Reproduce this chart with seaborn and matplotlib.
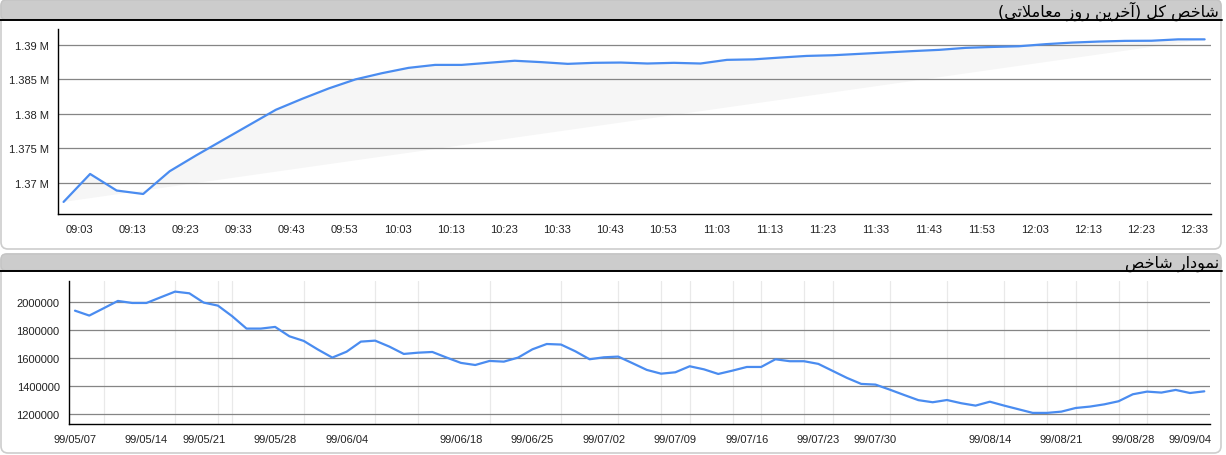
import matplotlib
matplotlib.use("Agg")
import matplotlib.pyplot as plt
import seaborn as sns
import pandas as pd
from matplotlib.patches import FancyBboxPatch
from matplotlib.ticker import FixedLocator, FuncFormatter

# top chart: total index on the last trading day (every 5 minutes)
intraday_times = [
    "09:00", "09:05", "09:10", "09:15", "09:20", "09:25", "09:30", "09:35", "09:40", "09:45",
    "09:50", "09:55", "10:00", "10:05", "10:10", "10:15", "10:20", "10:25", "10:30", "10:35",
    "10:40", "10:45", "10:50", "10:55", "11:00", "11:05", "11:10", "11:15", "11:20", "11:25",
    "11:30", "11:35", "11:40", "11:45", "11:50", "11:55", "12:00", "12:05", "12:10", "12:15",
    "12:20", "12:25", "12:30", "12:35",
]
intraday_values = [
    1367250, 1371300, 1368900, 1368400, 1371700, 1374000, 1376200, 1378400, 1380600, 1382200,
    1383700, 1385000, 1385900, 1386670, 1387100, 1387100, 1387400, 1387700, 1387500, 1387250,
    1387400, 1387440, 1387300, 1387400, 1387300, 1387830, 1387900, 1388160, 1388400, 1388500,
    1388700, 1388900, 1389100, 1389280, 1389570, 1389700, 1389800, 1390100, 1390330, 1390480,
    1390580, 1390600, 1390800, 1390800,
]
time_labels = ["09:03", "09:13", "09:23", "09:33", "09:43", "09:53", "10:03", "10:13",
               "10:23", "10:33", "10:43", "10:53", "11:03", "11:13", "11:23", "11:33",
               "11:43", "11:53", "12:03", "12:13", "12:23", "12:33"]
top_yticks = [1370000, 1375000, 1380000, 1385000, 1390000]

# bottom chart: daily index, one point per trading day
daily_values = [
    1940000, 1905000, 1957000, 2009500, 1995000, 1995000, 2035700, 2076000, 2064000, 1997600,
    1976000, 1900000, 1812000, 1812000, 1824000, 1757000, 1724000, 1662000, 1605000, 1647000,
    1719000, 1726000, 1683000, 1631000, 1640000, 1645000, 1605000, 1567000, 1552000, 1581000,
    1576000, 1605000, 1664000, 1702000, 1698000, 1650000, 1593000, 1607000, 1612000, 1565000,
    1517000, 1490000, 1500000, 1543000, 1521000, 1488000, 1512000, 1538000, 1538000, 1593000,
    1579000, 1579000, 1560000, 1510000, 1460000, 1417000, 1412000, 1376000, 1338000, 1301000,
    1286000, 1302000, 1279000, 1262000, 1290000, 1262000, 1236000, 1210000, 1210000, 1219000,
    1245000, 1255000, 1271000, 1293000, 1343000, 1362000, 1355000, 1374000, 1352000, 1364000,
]
date_tick_days = [0, 5, 9, 14, 19, 22, 27, 32, 37, 42, 47, 52, 56, 59, 64, 69, 74, 78]
date_tick_labels = ["99/05/07", "99/05/14", "99/05/21", "99/05/28", "99/06/04", "",
                    "99/06/18", "99/06/25", "99/07/02", "99/07/09", "99/07/16", "99/07/23",
                    "99/07/30", "", "99/08/14", "99/08/21", "99/08/28", "99/09/04"]
date_grid_days = [0, 2, 5, 7, 10, 11, 14, 16, 19, 21, 24, 27, 29, 32, 34, 37, 38, 41, 43,
                  46, 48, 51, 53, 56, 57, 59, 61, 64, 65, 68, 70, 73, 75, 78]
bottom_yticks = [1200000, 1400000, 1600000, 1800000, 2000000]

title_top = "شاخص کل (آخرین روز معاملاتی)"
title_bottom = "نمودار شاخص"

# matplotlib does no arabic shaping, so pick presentation forms by hand
FORMS = {
    'ا': '\uFE8D\uFE8E', 'آ': '\uFE81\uFE82', 'د': '\uFEA9\uFEAA', 'ر': '\uFEAD\uFEAE',
    'ز': '\uFEAF\uFEB0', 'و': '\uFEED\uFEEE', 'لا': '\uFEFB\uFEFC',
    'ت': '\uFE95\uFE96\uFE97\uFE98', 'خ': '\uFEA5\uFEA6\uFEA7\uFEA8',
    'ش': '\uFEB5\uFEB6\uFEB7\uFEB8', 'ص': '\uFEB9\uFEBA\uFEBB\uFEBC',
    'ع': '\uFEC9\uFECA\uFECB\uFECC', 'ل': '\uFEDD\uFEDE\uFEDF\uFEE0',
    'م': '\uFEE1\uFEE2\uFEE3\uFEE4', 'ن': '\uFEE5\uFEE6\uFEE7\uFEE8',
    'ک': '\uFB8E\uFB8F\uFB90\uFB91', 'ی': '\uFBFC\uFBFD\uFBFE\uFBFF',
}


def shape_rtl(text):
    tokens, i = [], 0
    while i < len(text):
        if text[i] == 'ل' and text[i + 1:i + 2] == 'ا':
            tokens.append('لا')
            i += 2
        else:
            tokens.append(text[i])
            i += 1
    out = []
    for k, t in enumerate(tokens):
        if t not in FORMS:
            out.append(t)
            continue
        f = FORMS[t]
        prev_j = k > 0 and tokens[k - 1] in FORMS and len(FORMS[tokens[k - 1]]) == 4
        next_j = len(f) == 4 and k + 1 < len(tokens) and tokens[k + 1] in FORMS
        if prev_j and next_j:
            out.append(f[3])
        elif prev_j:
            out.append(f[1])
        elif next_j:
            out.append(f[2])
        else:
            out.append(f[0])
    mirror = {'(': ')', ')': '('}
    return ''.join(mirror.get(c, c) for c in reversed(out))


sns.set_theme(style="white")
plt.rcParams['font.family'] = ['Liberation Sans', 'DejaVu Sans']

W, H = 1226, 456
fig = plt.figure(figsize=(W / 100, H / 100), dpi=100)
fig.patch.set_facecolor("white")

LINE = "#4a8cf0"
GRID = "#858585"


def panel(top, bottom, head_bottom):
    # white rounded box + grey header strip (pixel coords, y from top)
    box = FancyBboxPatch((1, H - bottom), 1220, bottom - top,
                         boxstyle="round,pad=0,rounding_size=7", transform=None,
                         facecolor="white", edgecolor="#cdcdcd", lw=1.2, zorder=-5)
    fig.add_artist(box)
    head = FancyBboxPatch((1, H - head_bottom), 1220, head_bottom - top,
                          boxstyle="round,pad=0,rounding_size=5", transform=None,
                          facecolor="#cccccc", edgecolor="#c4c4c4", lw=1, zorder=-4)
    fig.add_artist(head)
    fig.add_artist(plt.Line2D([0, 1222], [H - head_bottom, H - head_bottom], transform=None,
                              color="black", lw=1.4, zorder=-3))


panel(1, 250, 20.5)
panel(255, 454, 271.5)

fig.text(1219 / W, 1 - 11.5 / H, shape_rtl(title_top), ha="right", va="center",
         fontsize=11.5, family=["DejaVu Sans"], color="black")
fig.text(1219 / W, 1 - 263.5 / H, shape_rtl(title_bottom), ha="right", va="center",
         fontsize=11.5, family=["DejaVu Sans"], color="black")


def style_axes(ax):
    ax.set_facecolor("none")
    for s in ["top", "right"]:
        ax.spines[s].set_visible(False)
    for s in ["left", "bottom"]:
        ax.spines[s].set_color("black")
        ax.spines[s].set_linewidth(1.0)
    ax.yaxis.grid(True, color=GRID, lw=0.9)
    ax.set_axisbelow(True)
    ax.tick_params(axis="both", which="both", colors="black", labelcolor="#222222",
                   labelsize=8, direction="out", width=0.8)
    ax.tick_params(axis="x", which="both", length=4.5, pad=3)
    ax.tick_params(axis="y", length=3.5, pad=3)
    ax.set_xlabel("")
    ax.set_ylabel("")


# ---- top: intraday ----
df_day = pd.DataFrame({"time": intraday_times, "value": intraday_values})
df_day["minute"] = df_day["time"].apply(lambda t: int(t[:2]) * 60 + int(t[3:]) - 540)

ax1 = fig.add_axes([58 / W, 1 - 215 / H, (1211 - 58) / W, (215 - 30) / H])
ax1.fill(df_day["minute"], df_day["value"], color="#f6f6f6", lw=0, zorder=0.2)
sns.lineplot(data=df_day, x="minute", y="value", ax=ax1, color=LINE, lw=1.6, zorder=3)
style_axes(ax1)
label_min = [int(t[:2]) * 60 + int(t[3:]) - 540 for t in time_labels]
ax1.xaxis.set_major_locator(FixedLocator(label_min))
ax1.set_xticklabels(time_labels)
ax1.xaxis.set_minor_locator(FixedLocator([m + 5 for m in label_min]))
ax1.set_yticks(top_yticks)
ax1.yaxis.set_major_formatter(FuncFormatter(lambda v, p: f"{v / 1e6:g} M"))
ax1.set_xlim(-1.05, 216.2)
ax1.set_ylim(1365500, 1392300)

# ---- bottom: daily ----
df_hist = pd.DataFrame({"day": range(len(daily_values)), "value": daily_values})
ax2 = fig.add_axes([68.7 / W, 1 - 425 / H, (1210 - 68.7) / W, (425 - 281.7) / H])
sns.lineplot(data=df_hist, x="day", y="value", ax=ax2, color=LINE, lw=1.6, zorder=3)
style_axes(ax2)
ax2.xaxis.set_major_locator(FixedLocator(date_tick_days))
ax2.set_xticklabels(date_tick_labels)
ax2.xaxis.set_minor_locator(FixedLocator(date_grid_days))
ax2.tick_params(axis="x", which="minor", length=0)
ax2.xaxis.grid(True, which="minor", color="#e9e9e9", lw=0.9)
ax2.xaxis.grid(False, which="major")
ax2.set_yticks(bottom_yticks)
ax2.yaxis.set_major_formatter(FuncFormatter(lambda v, p: f"{int(v)}"))
ax2.set_xlim(-0.44, 79.4)
ax2.set_ylim(1130700, 2154000)

fig.savefig("out.png", dpi=100)
